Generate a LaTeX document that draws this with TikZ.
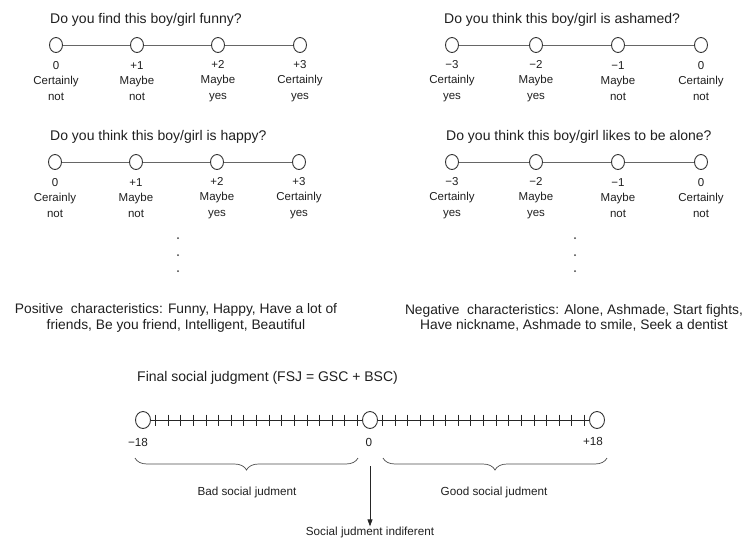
\documentclass[tikz,border=0pt]{standalone}
\usepackage{fontspec}
\setmainfont{Liberation Sans}
\usetikzlibrary{decorations.pathreplacing,arrows.meta,calc,shapes.geometric}
\begin{document}
\begin{tikzpicture}[x=1pt,y=-1pt,
  opt/.style={ellipse,draw=black!80,line width=0.9pt,minimum width=13pt,minimum height=15pt,inner sep=0pt,fill=white},
  bigopt/.style={ellipse,draw=black!80,line width=0.9pt,minimum width=15pt,minimum height=17pt,inner sep=0pt,fill=white},
  lbl/.style={align=center,font=\fontsize{11.5}{15.5}\selectfont,text=black!88,inner sep=0pt},
  ttl/.style={anchor=west,font=\fontsize{14}{16}\selectfont,text=black!88,inner sep=0pt},
  summ/.style={align=center,font=\fontsize{13.8}{15.5}\selectfont,text=black!88,inner sep=0pt},
  small/.style={font=\fontsize{11.7}{14}\selectfont,text=black!88,inner sep=0pt},
  conn/.style={draw=black!60,line width=0.8pt},
  axis/.style={draw=black!85,line width=0.8pt},
  tickmark/.style={draw=black!85,line width=0.8pt},
  bracestyle/.style={draw=black!70,line width=0.7pt,decorate,decoration={brace,mirror,amplitude=12pt}},
  dotmark/.style={fill=black!75}
]
\useasboundingbox (0,0) rectangle (748,539);

% ---------- top-left: funny ----------
\node[ttl] (t1) at (50,20) {Do you find this boy/girl funny?};
\node[opt] (a1) at (56,45) {};
\node[opt] (a2) at (137,45) {};
\node[opt] (a3) at (218,45) {};
\node[opt] (a4) at (300,45) {};
\draw[conn] (a1) -- (a2); \draw[conn] (a2) -- (a3); \draw[conn] (a3) -- (a4);
\node[lbl] (la1) at (56,81) {0\\Certainly\\not};
\node[lbl] (la2) at (137,81) {+1\\Maybe\\not};
\node[lbl] (la3) at (218,81) {+2\\Maybe\\yes};
\node[lbl] (la4) at (300,81) {+3\\Certainly\\yes};

% ---------- top-right: ashamed ----------
\node[ttl] (t2) at (444,20) {Do you think this boy/girl is ashamed?};
\node[opt] (b1) at (452,45) {};
\node[opt] (b2) at (536,45) {};
\node[opt] (b3) at (618,45) {};
\node[opt] (b4) at (701,45) {};
\draw[conn] (b1) -- (b2); \draw[conn] (b2) -- (b3); \draw[conn] (b3) -- (b4);
\node[lbl] (lb1) at (452,81) {−3\\Certainly\\yes};
\node[lbl] (lb2) at (536,81) {−2\\Maybe\\yes};
\node[lbl] (lb3) at (618,81) {−1\\Maybe\\not};
\node[lbl] (lb4) at (701,81) {0\\Certainly\\not};

% ---------- second-left: happy ----------
\node[ttl] (t3) at (50,137) {Do you think this boy/girl is happy?};
\node[opt] (c1) at (55,162) {};
\node[opt] (c2) at (136,162) {};
\node[opt] (c3) at (217,162) {};
\node[opt] (c4) at (299,162) {};
\draw[conn] (c1) -- (c2); \draw[conn] (c2) -- (c3); \draw[conn] (c3) -- (c4);
\node[lbl] (lc1) at (55,198) {0\\Cerainly\\not};
\node[lbl] (lc2) at (136,198) {+1\\Maybe\\not};
\node[lbl] (lc3) at (217,198) {+2\\Maybe\\yes};
\node[lbl] (lc4) at (299,198) {+3\\Certainly\\yes};

% ---------- second-right: alone ----------
\node[ttl] (t4) at (446,137) {Do you think this boy/girl likes to be alone?};
\node[opt] (d1) at (452,162) {};
\node[opt] (d2) at (536,162) {};
\node[opt] (d3) at (618,162) {};
\node[opt] (d4) at (701,162) {};
\draw[conn] (d1) -- (d2); \draw[conn] (d2) -- (d3); \draw[conn] (d3) -- (d4);
\node[lbl] (ld1) at (452,198) {−3\\Certainly\\yes};
\node[lbl] (ld2) at (536,198) {−2\\Maybe\\yes};
\node[lbl] (ld3) at (618,198) {−1\\Maybe\\not};
\node[lbl] (ld4) at (701,198) {0\\Certainly\\not};

% ---------- vertical dots ----------
\foreach \yy in {238,255,271} {
  \fill[dotmark] (178,\yy) circle (1pt);
  \fill[dotmark] (575,\yy) circle (1pt);
}

% ---------- summaries ----------
\node[summ] (pos) at (176,318) {Positive\ \ characteristics: Funny, Happy, Have a lot of\\friends, Be you friend, Intelligent, Beautiful};
\node[summ] (neg) at (574,318) {Negative\ \ characteristics: Alone, Ashmade, Start fights,\\Have nickname, Ashmade to smile, Seek a dentist};

% ---------- final scale ----------
\node[ttl] (t5) at (137,378) {Final social judgment (FSJ = GSC + BSC)};
\node[bigopt] (m18) at (143,420) {};
\node[bigopt] (z0) at (370,420) {};
\node[bigopt] (p18) at (597,420) {};
\draw[axis] (m18) -- (z0);
\draw[axis] (z0) -- (p18);
\foreach \i in {1,...,17} {
  \draw[tickmark] ($(m18.center)!\i/18!(z0.center)+(0,-5.5)$) -- ++(0,11);
  \draw[tickmark] ($(z0.center)!\i/18!(p18.center)+(0,-5.5)$) -- ++(0,11);
}
\node[small] (lm18) at (138,442) {−18};
\node[small] (lz0) at (369,442) {0};
\node[small] (lp18) at (593,441) {+18};

\coordinate (bl1) at (135,458);
\coordinate (bl2) at (358,458);
\coordinate (br1) at (383,458);
\coordinate (br2) at (607,458);
\draw[bracestyle] (bl1) -- (bl2);
\draw[bracestyle] (br1) -- (br2);
\node[small] (bad) at (247,492) {Bad social judment};
\node[small] (good) at (494,492) {Good social judment};

\node[small] (ind) at (370,532) {Social judment indiferent};
\coordinate (arrs) at (370,466);
\draw[axis,-{Triangle[length=7pt,width=5pt]}] (arrs) -- (ind.north);
\end{tikzpicture}
\end{document}
